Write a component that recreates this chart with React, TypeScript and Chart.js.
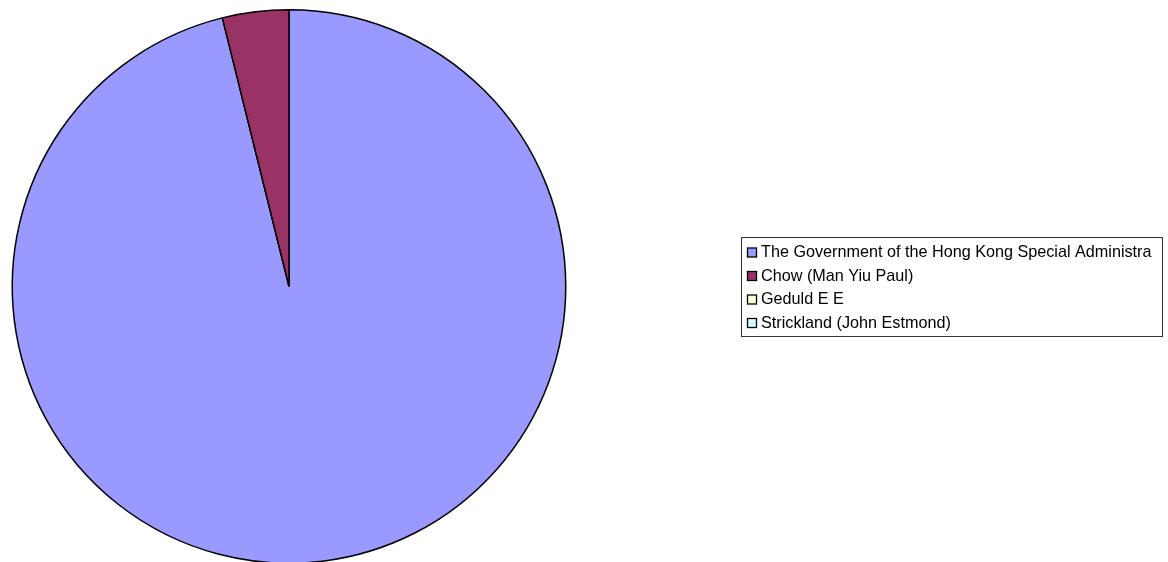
import React, { useEffect, useRef } from "react";
import { Chart, registerables } from "chart.js";

Chart.register(...registerables);

const labels: string[] = [
  "The Government of the Hong Kong Special Administra",
  "Chow (Man Yiu Paul)",
  "Geduld E E",
  "Strickland (John Estmond)",
];
const values: number[] = [96.13, 3.87, 0, 0];
const colors: string[] = ["#9999FF", "#993366", "#FFFFCC", "#CCFFFF"];

const legendBoxPlugin = {
  id: "legendBox",
  afterDraw(chart: any) {
    const ctx = chart.ctx as CanvasRenderingContext2D;
    const x = 741.5, y = 237.5, w = 421, h = 99;
    ctx.save();
    ctx.fillStyle = "#FFFFFF";
    ctx.fillRect(x, y, w, h);
    ctx.lineWidth = 1;
    ctx.strokeStyle = "#333333";
    ctx.strokeRect(x, y, w, h);
    ctx.beginPath();
    ctx.rect(x + 1, y + 1, w - 2, h - 2);
    ctx.clip();
    ctx.font = "16.2px 'Liberation Sans', Arial, sans-serif";
    ctx.textBaseline = "middle";
    const data = chart.data;
    data.labels.forEach((lab: string, i: number) => {
      const cy = 252.5 + i * 23.5;
      ctx.fillStyle = data.datasets[0].backgroundColor[i];
      ctx.fillRect(747.5, cy - 4.5, 9, 9);
      ctx.strokeStyle = "#000000";
      ctx.lineWidth = 1.3;
      ctx.strokeRect(747.5, cy - 4.5, 9, 9);
      ctx.fillStyle = "#000000";
      ctx.fillText(lab, 761, cy + 0.5);
    });
    ctx.restore();
  },
};

export default function App() {
  const ref = useRef<HTMLCanvasElement>(null);
  useEffect(() => {
    if (!ref.current) return;
    const chart = new Chart(ref.current, {
      type: "pie",
      data: {
        labels,
        datasets: [
          {
            data: values,
            backgroundColor: colors,
            borderColor: "#000000",
            borderWidth: 1.5,
          },
        ],
      },
      options: {
        animation: false,
        responsive: false,
        layout: { padding: { left: 11, top: 9, right: 601, bottom: 11 } },
        plugins: {
          legend: { display: false },
          tooltip: { enabled: false },
        },
      },
      plugins: [legendBoxPlugin],
    });
    return () => chart.destroy();
  }, []);
  return (
    <div style={{ position: "fixed", left: 0, top: 0, width: 1168, height: 562, overflow: "hidden", background: "#fff" }}>
      <canvas ref={ref} width={1168} height={575} style={{ display: "block" }} />
    </div>
  );
}
